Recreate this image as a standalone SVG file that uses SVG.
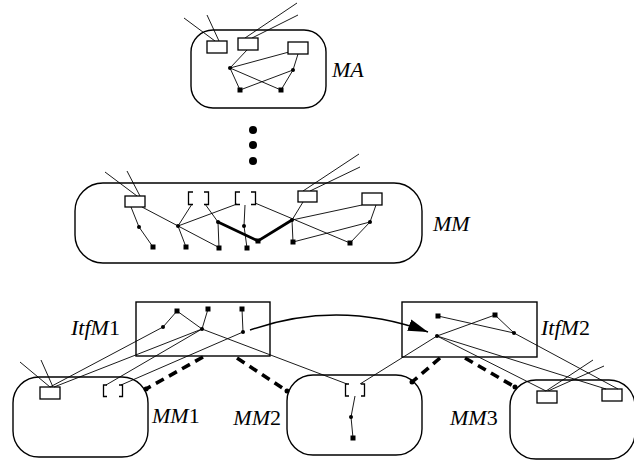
<svg xmlns="http://www.w3.org/2000/svg" width="634" height="462" viewBox="0 0 634 462">
  <defs>
    <style>
      .box { fill: none; stroke: #000; stroke-width: 1.4; }
      .port { fill: #fff; stroke: #000; stroke-width: 1.3; }
      .brk { fill: none; stroke: #000; stroke-width: 1.3; }
      .ln { fill: none; stroke: #000; stroke-width: 0.9; }
      .arc { fill: none; stroke: #000; stroke-width: 1.4; }
      .bold { fill: none; stroke: #000; stroke-width: 2.8; }
      .dash { fill: none; stroke: #000; stroke-width: 3.6; stroke-dasharray: 9 6; }
      .dot { fill: #000; }
      .sq { fill: #000; }
      .lbl { font-family: "Liberation Serif", "Times New Roman", serif; font-size: 22px; font-style: italic; fill: #000; }
      .num { font-style: normal; }
    </style>
    <marker id="arrow" viewBox="0 0 20 12" refX="20" refY="6" markerWidth="20" markerHeight="12" markerUnits="userSpaceOnUse" orient="auto">
      <path d="M0,0 L20,6 L0,12 Z" fill="#000"/>
    </marker>
  </defs>

  <!-- top module MA -->
  <g id="MA">
    <rect class="box" x="191" y="30" width="135" height="78" rx="22"/>
    <path class="ln" d="M184,18 L215,41 M207,15 L219,41 M297,3 L245,38 M298,15 L252,38"/>
    <path class="ln" d="M247,50 L230,68 L289,52 M298,54 L293,70 M230,68 L240,90 M230,68 L281,90 M293,70 L240,90 M293,70 L281,90"/>
    <rect class="port" x="207" y="41" width="20" height="12"/>
    <rect class="port" x="238" y="38" width="20" height="12"/>
    <rect class="port" x="288" y="42" width="20" height="12"/>
    <circle class="dot" cx="230" cy="68" r="2"/>
    <circle class="dot" cx="293" cy="70" r="2"/>
    <rect class="sq" x="237.5" y="87.5" width="5" height="5"/>
    <rect class="sq" x="278.5" y="87.5" width="5" height="5"/>
    <text class="lbl" x="332" y="77">MA</text>
  </g>

  <!-- vertical ellipsis -->
  <g id="ellipsis">
    <circle class="dot" cx="253" cy="130" r="4"/>
    <circle class="dot" cx="253" cy="145" r="4"/>
    <circle class="dot" cx="253" cy="161" r="4"/>
  </g>

  <!-- middle module MM -->
  <g id="MM">
    <rect class="box" x="75" y="183" width="347" height="80" rx="28"/>
    <path class="ln" d="M105,172 L137,196 M127,171 L140,196 M359,154 L303,191 M360,167 L310,191"/>
    <path class="ln" d="M131,207 L139,227 L153,247 M142,207 L218,247 M192,204 L178,226 L186,247 M178,226 L237,204 M205,204 L218,222 L219,248 M245,205 L244,226 L247,248 M255,203 L350,243 M303,202 L292,220 L362,205 M292,220 L293,242 L370,222 L376,205 M350,243 L370,222"/>
    <path class="bold" d="M218,222 L258,241 L292,220"/>
    <rect class="port" x="125" y="196" width="20" height="11"/>
    <rect class="port" x="298" y="191" width="19" height="11"/>
    <rect class="port" x="362" y="193" width="20" height="12"/>
    <path class="brk" d="M193,192 H188.5 V204.5 H193 M204,192 H208.5 V204.5 H204"/>
    <path class="brk" d="M240,192 H235.5 V204.5 H240 M251,192 H255.5 V204.5 H251"/>
    <circle class="dot" cx="139" cy="227" r="2"/>
    <circle class="dot" cx="178" cy="226" r="2"/>
    <circle class="dot" cx="218" cy="222" r="2"/>
    <circle class="dot" cx="244" cy="226" r="2"/>
    <circle class="dot" cx="292" cy="220" r="2"/>
    <circle class="dot" cx="370" cy="222" r="2"/>
    <rect class="sq" x="150.5" y="244.5" width="5" height="5"/>
    <rect class="sq" x="183.5" y="244.5" width="5" height="5"/>
    <rect class="sq" x="216.5" y="245.5" width="5" height="5"/>
    <rect class="sq" x="244.5" y="245.5" width="5" height="5"/>
    <rect class="sq" x="255.5" y="238.5" width="5" height="5"/>
    <rect class="sq" x="290.5" y="239.5" width="5" height="5"/>
    <rect class="sq" x="347.5" y="240.5" width="5" height="5"/>
    <text class="lbl" x="433" y="231">MM</text>
  </g>

  <!-- interface module ItfM1 -->
  <g id="ItfM1">
    <rect class="box" x="136" y="302" width="134" height="54"/>
    <path class="ln" d="M163,327 L177,311 L202,329 L208,309 M242,309 L243,332"/>
    <rect class="sq" x="174.5" y="308.5" width="5" height="5"/>
    <rect class="sq" x="205.5" y="306.5" width="5" height="5"/>
    <rect class="sq" x="239.5" y="306.5" width="5" height="5"/>
    <circle class="dot" cx="163" cy="327" r="2"/>
    <circle class="dot" cx="202" cy="329" r="2"/>
    <circle class="dot" cx="243" cy="332" r="2"/>
    <text class="lbl" x="71" y="335">ItfM<tspan class="num">1</tspan></text>
  </g>

  <!-- interface module ItfM2 -->
  <g id="ItfM2">
    <rect class="box" x="402" y="302" width="135" height="55"/>
    <path class="ln" d="M438,316 L514,333 L495,315 L437,336"/>
    <rect class="sq" x="435.5" y="313.5" width="5" height="5"/>
    <rect class="sq" x="492.5" y="312.5" width="5" height="5"/>
    <circle class="dot" cx="514" cy="333" r="2"/>
    <circle class="dot" cx="437" cy="336" r="2"/>
    <text class="lbl" x="541" y="335">ItfM<tspan class="num">2</tspan></text>
  </g>

  <!-- lower module MM1 -->
  <g id="MM1">
    <rect class="box" x="13" y="377" width="135" height="80" rx="26"/>
    <path class="ln" d="M20,362 L50,387 M41,360 L53,387"/>
    <rect class="port" x="40" y="387" width="20" height="12"/>
    <path class="brk" d="M107,385 H103.5 V396.5 H107 M119,385 H122.5 V396.5 H119"/>
    <text class="lbl" x="152" y="423">MM<tspan class="num">1</tspan></text>
  </g>

  <!-- lower module MM2 -->
  <g id="MM2">
    <rect class="box" x="287" y="375" width="135" height="80" rx="26"/>
    <path class="brk" d="M349,384 H345.5 V396 H349 M361,384 H364.5 V396 H361"/>
    <path class="ln" d="M355,396 L351,417 L353,438"/>
    <circle class="dot" cx="351" cy="417" r="2"/>
    <rect class="sq" x="350.5" y="435.5" width="5" height="5"/>
    <text class="lbl" x="281" y="425" text-anchor="end">MM<tspan class="num">2</tspan></text>
  </g>

  <!-- lower module MM3 (runs off the right edge) -->
  <g id="MM3">
    <rect class="box" x="510" y="380" width="125" height="79" rx="26"/>
    <path class="ln" d="M546,391 L593,360 M548,391 L604,366"/>
    <rect class="port" x="537" y="391" width="20" height="12"/>
    <rect class="port" x="602" y="389" width="20" height="12"/>
    <text class="lbl" x="450" y="425">MM<tspan class="num">3</tspan></text>
  </g>

  <!-- connectors between modules -->
  <g id="connectors">
    <path class="ln" d="M163,327 L50,387 M202,329 L54,387 M202,329 L106,385 M243,332 L121,385 M202,329 L347,384"/>
    <path class="ln" d="M437,336 L360,384 M437,336 L546,391 M437,336 L606,389 M514,333 L618,389"/>
    <path class="arc" d="M250,330 Q339,299 428,332" marker-end="url(#arrow)"/>
    <path class="dash" d="M203,357 L146,389 M237,358 L287,391 M440,358 L412,382 M465,358 L515,387"/>
    <circle class="dot" cx="146" cy="389" r="2.5"/>
    <circle class="dot" cx="287" cy="391" r="2.5"/>
    <circle class="dot" cx="412" cy="382" r="2.5"/>
    <circle class="dot" cx="515" cy="387" r="2.5"/>
  </g>
</svg>
